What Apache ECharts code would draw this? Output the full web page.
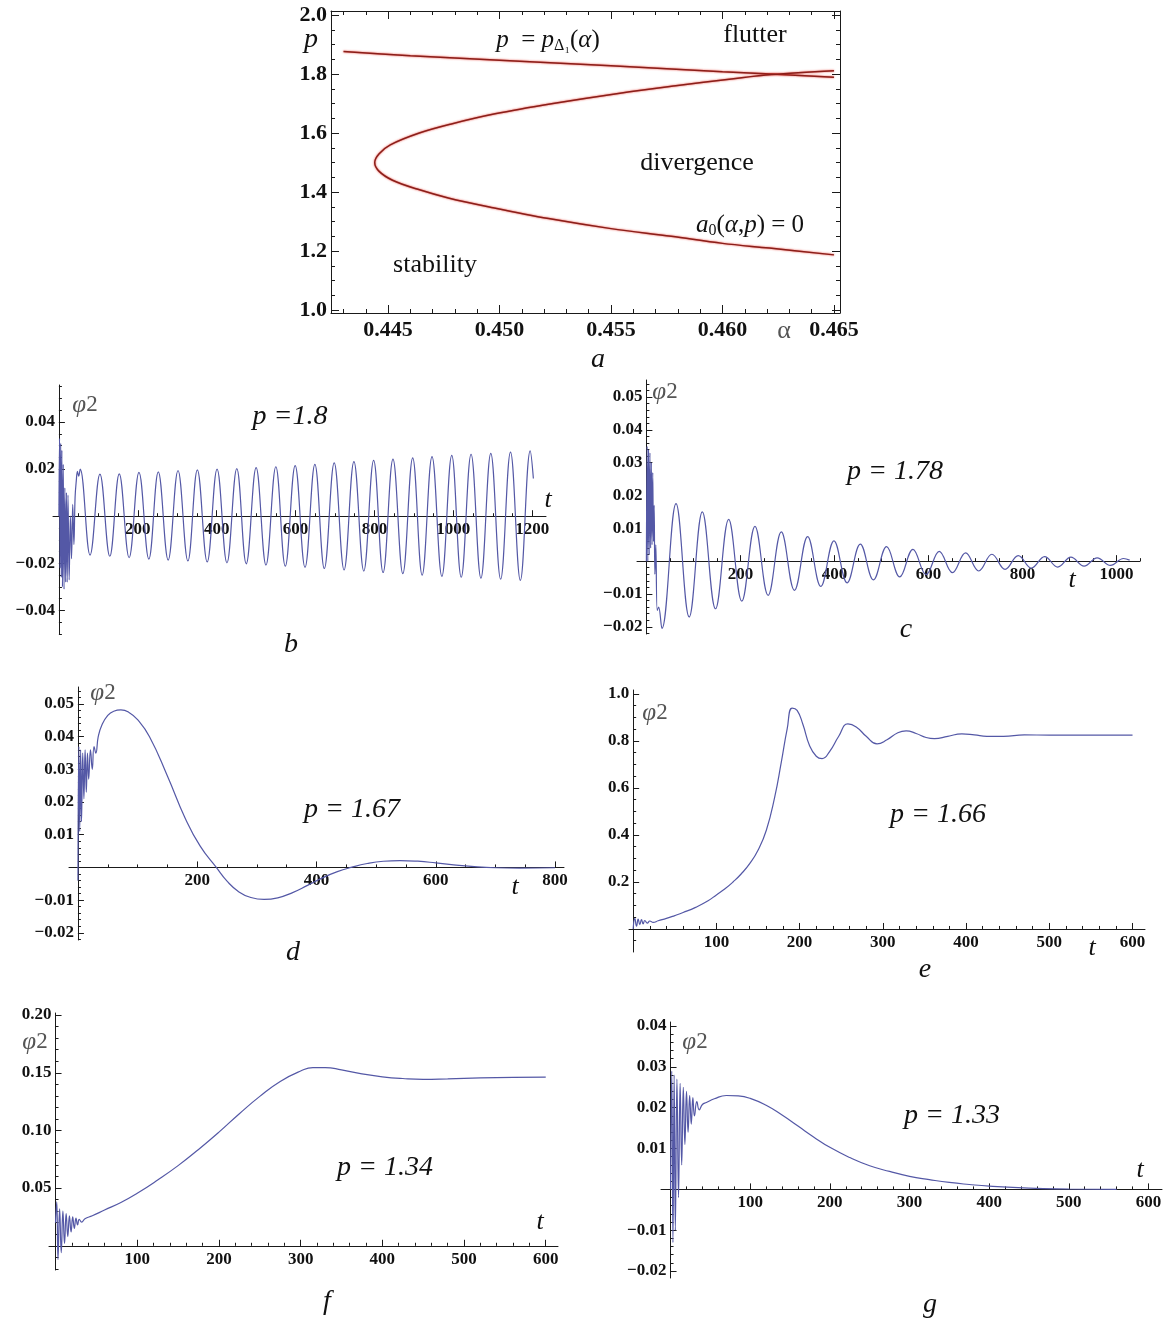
<!DOCTYPE html>
<html>
<head>
<meta charset="utf-8">
<script src="https://cdn.jsdelivr.net/npm/echarts@6/dist/echarts.min.js"></script>
<style>
  html, body { margin: 0; background: #fff; }
  #chart { width: 1173px; height: 1320px; }
</style>
</head>
<body>
<div id="chart"></div>
<script>
// ---- panel a : stability diagram ----
const alphaDelta = [0.443, 0.446, 0.450, 0.455, 0.460, 0.465];
const pDelta = [1.876, 1.862, 1.847, 1.828, 1.808, 1.789];
const alphaA0 = [0.465, 0.4621, 0.460, 0.4577, 0.455, 0.4522, 0.4497, 0.4477, 0.4463, 0.4452, 0.4446, 0.4444,
  0.4446, 0.4451, 0.4464, 0.4478, 0.4498, 0.4524, 0.4554, 0.4579, 0.4604, 0.4622, 0.465];
const pA0 = [1.187, 1.21, 1.226, 1.25, 1.276, 1.31, 1.347, 1.38, 1.41, 1.44, 1.47, 1.50,
  1.53, 1.56, 1.60, 1.63, 1.665, 1.70, 1.735, 1.76, 1.783, 1.798, 1.811];
const aTicksX = [0.445, 0.450, 0.455, 0.460, 0.465];
const aTicksY = [1.0, 1.2, 1.4, 1.6, 1.8, 2.0];

// ---- panel b : p = 1.8 ----
const bT = [0, 1.5, 3, 4.5, 6, 7.5, 9, 11, 13, 15, 17, 19, 21, 23, 26, 29, 32, 35, 38, 41, 44, 47, 50, 54,
  79, 104, 129, 153, 178, 203, 228, 252, 277, 302, 327, 351, 376, 401, 426, 451, 475, 500, 525, 550, 574, 599,
  624, 649, 673, 698, 723, 748, 773, 798, 822, 847, 872, 897, 921, 946, 971, 996, 1020, 1045, 1070, 1095,
  1120, 1145, 1170, 1195, 1203];
const bPhi = [0, 0.033, -0.022, 0.031, -0.026, 0.028, -0.03, 0.022, -0.031, 0.012, -0.028, 0.01, -0.028, 0.009,
  -0.027, 0.0, -0.018, 0.005, -0.012, 0.008, 0.015, 0.019, 0.017, 0.020,
  -0.0165, 0.0179, -0.0170, 0.0180, -0.0176, 0.0186, -0.0182, 0.0188, -0.0186, 0.0194, -0.0190, 0.0197,
  -0.0194, 0.0200, -0.0198, 0.0202, -0.0202, 0.0206, -0.0207, 0.0210, -0.0212, 0.0215, -0.0217, 0.0220,
  -0.0222, 0.0226, -0.0228, 0.0232, -0.0233, 0.0237, -0.0239, 0.0242, -0.0244, 0.0248, -0.0250, 0.0253,
  -0.0255, 0.0258, -0.0259, 0.0263, -0.0263, 0.0267, -0.0267, 0.0272, -0.0272, 0.0277, 0.016];
const bTicksX = [200, 400, 600, 800, 1000, 1200];
const bTicksY = [-0.04, -0.02, 0.02, 0.04];

// ---- panel c : p = 1.78 ----
const cT = [0, 1.5, 3, 4.5, 6, 7.5, 9, 10.5, 12, 13.5, 15, 16.5, 18, 20, 23, 26, 33,
  63, 91, 119, 147, 175, 203, 231, 259, 287, 315, 343, 371, 399, 427, 455, 483, 511, 539, 567, 595, 623,
  651, 679, 707, 735, 763, 791, 819, 847, 875, 903, 931, 959, 987, 1015, 1028];
const cPhi = [0, 0.035, 0.0, 0.034, 0.002, 0.033, 0.004, 0.03, 0.005, 0.027, 0.006, 0.017, -0.004, 0.005,
  -0.015, -0.014, -0.0205,
  0.0175, -0.0170, 0.0150, -0.0145, 0.0127, -0.0122, 0.0106, -0.0104, 0.0089, -0.0089, 0.0075, -0.0077,
  0.0062, -0.0066, 0.0052, -0.0057, 0.0044, -0.0048, 0.0036, -0.0041, 0.0030, -0.0035, 0.0025, -0.0030,
  0.0021, -0.0025, 0.0017, -0.0021, 0.0014, -0.0018, 0.0012, -0.0015, 0.0010, -0.0013, 0.0008, 0.0003];
const cTicksX = [200, 400, 600, 800, 1000];
const cTicksY = [-0.02, -0.01, 0.01, 0.02, 0.03, 0.04, 0.05];

// ---- panel d : p = 1.67 ----
const dT = [0, 1.5, 3, 4.5, 6, 8, 10, 12, 14, 16, 18, 21, 24, 27, 30, 34, 40, 50, 60, 72, 85, 100, 120, 150,
  180, 205, 232, 250, 270, 290, 312, 335, 360, 385, 410, 435, 458, 485, 512, 540, 570, 600, 630, 660, 700,
  740, 800];
const dPhi = [-0.004, 0.037, 0.011, 0.036, 0.014, 0.035, 0.021, 0.036, 0.023, 0.035, 0.027, 0.036, 0.030,
  0.037, 0.035, 0.040, 0.0435, 0.0465, 0.0478, 0.0482, 0.0475, 0.0452, 0.040, 0.028, 0.015, 0.0065, 0.0,
  -0.0042, -0.0075, -0.0092, -0.0098, -0.0093, -0.0077, -0.0055, -0.0032, -0.0013, 0.0, 0.0012, 0.0019,
  0.0021, 0.0019, 0.0014, 0.0008, 0.0003, -0.0001, -0.0002, -0.0001];
const dTicksX = [200, 400, 600, 800];
const dTicksY = [-0.02, -0.01, 0.01, 0.02, 0.03, 0.04, 0.05];

// ---- panel e : p = 1.66 ----
const eT = [0, 2, 4, 6, 8, 10, 12, 14, 17, 20, 24, 30, 40, 50, 60, 75, 90, 100, 110, 120, 130, 140, 150, 160,
  170, 178, 185, 191, 197, 204, 212, 220, 227, 236, 247, 258, 268, 280, 293, 305, 318, 328, 340, 352, 362,
  378, 395, 410, 425, 445, 470, 500, 550, 600];
const ePhi = [0.0, 0.045, 0.012, 0.042, 0.018, 0.04, 0.022, 0.036, 0.025, 0.034, 0.028, 0.035, 0.045, 0.057,
  0.07, 0.092, 0.12, 0.145, 0.17, 0.2, 0.235, 0.278, 0.335, 0.42, 0.56, 0.71, 0.85, 0.94, 0.93, 0.87, 0.78,
  0.735, 0.725, 0.755, 0.82, 0.873, 0.86, 0.82, 0.788, 0.805, 0.835, 0.843, 0.832, 0.815, 0.81, 0.82, 0.83,
  0.826, 0.82, 0.82, 0.826, 0.825, 0.825, 0.825];
const eTicksX = [100, 200, 300, 400, 500, 600];
const eTicksY = [0.2, 0.4, 0.6, 0.8, 1.0];

// ---- panel f : p = 1.34 ----
const fT = [0, 1.5, 3, 5, 7, 9, 11, 13, 15, 17, 19, 21, 23, 25, 27, 29, 32, 36, 45, 60, 80, 100, 125, 150,
  175, 200, 225, 250, 275, 300, 315, 330, 350, 375, 400, 425, 450, 480, 520, 560, 600];
const fPhi = [0.02, 0.038, -0.012, 0.032, -0.006, 0.03, 0.002, 0.028, 0.008, 0.026, 0.012, 0.025, 0.015,
  0.024, 0.018, 0.023, 0.0205, 0.0235, 0.026, 0.031, 0.0375, 0.0455, 0.057, 0.0695, 0.0835, 0.0985, 0.1145,
  0.1295, 0.1425, 0.1515, 0.1545, 0.1545, 0.1525, 0.149, 0.1465, 0.145, 0.1443, 0.1447, 0.1455, 0.146, 0.1462];
const fTicksX = [100, 200, 300, 400, 500, 600];
const fTicksY = [0.05, 0.10, 0.15, 0.20];

// ---- panel g : p = 1.33 ----
const gT = [0, 1.5, 3, 4.5, 6, 8, 10, 12, 14, 16, 18, 20, 22, 24, 26, 28, 30, 33, 36, 40, 45, 55, 70, 85,
  100, 120, 140, 160, 180, 200, 225, 250, 275, 300, 325, 350, 375, 400, 450, 500, 560];
const gPhi = [0.0, 0.029, -0.013, 0.028, -0.010, 0.027, -0.002, 0.026, 0.006, 0.025, 0.011, 0.024, 0.014,
  0.023, 0.016, 0.0225, 0.018, 0.0215, 0.0195, 0.0208, 0.0213, 0.0222, 0.0230, 0.0229, 0.0223, 0.0206,
  0.0182, 0.0155, 0.0128, 0.0103, 0.0078, 0.0058, 0.0044, 0.0032, 0.0024, 0.0017, 0.0012, 0.0008, 0.0003,
  0.0001, 0.0];
const gTicksX = [100, 200, 300, 400, 500, 600];
const gTicksY = [-0.02, -0.01, 0.01, 0.02, 0.03, 0.04];

const SERIF = '"Liberation Serif", "Times New Roman", serif';
const CURVE = '#5458a6';
const INK = '#1a1a1a';

const pairs = (xs, ys) => xs.map((x, i) => [x, ys[i]]);
const steps = (lo, hi, step) => {
  const out = [];
  for (let k = Math.ceil(lo / step - 1e-9); k * step <= hi + 1e-9; k++) out.push(+(k * step).toFixed(8));
  return out;
};
const fmt = (d) => (v) => (v < 0 ? '\u2212' : '') + Math.abs(v).toFixed(d);

const grids = [];
const xAxes = [];
const yAxes = [];
const series = [];

// visible axis: major (line + labels) or minor (ticks only)
function axis(grid, min, max, o) {
  return {
    type: 'value', gridIndex: grid, min, max, position: o.position,
    axisLine: { show: !!o.line, onZero: false, lineStyle: { color: INK, width: 1 } },
    axisTick: { show: true, inside: true, length: o.len, customValues: o.ticks, lineStyle: { color: INK, width: 1 } },
    axisLabel: {
      show: !!o.labels, customValues: o.labels || [], formatter: o.fmt, margin: o.margin || 5,
      fontFamily: SERIF, fontWeight: 'bold', fontSize: o.size || 17, color: '#111'
    },
    splitLine: { show: false }
  };
}
const hidden = (grid, min, max) => ({ type: 'value', gridIndex: grid, min, max, show: false, splitLine: { show: false } });

function addGrid(left, top, right, bottom) {
  grids.push({ left, top, width: right - left, height: bottom - top });
  return grids.length - 1;
}

// Mathematica "Axes" style panel: axes cross at the origin
function axesPanel(box, xr, yr, xMajor, yMajor, xStep, yStep, yDigits, t, phi, smooth) {
  const [l, tp, r, b] = box;
  const zeroY = b - (0 - yr[0]) / (yr[1] - yr[0]) * (b - tp);
  const zeroX = l + (0 - xr[0]) / (xr[1] - xr[0]) * (r - l);

  // horizontal t axis sitting on phi = 0
  const gx = addGrid(l, zeroY - 10, r, zeroY);
  xAxes.push(axis(gx, xr[0], xr[1], { position: 'bottom', line: true, len: 6, ticks: xMajor, labels: xMajor, fmt: fmt(0), size: 17, margin: 5 }));
  xAxes.push(axis(gx, xr[0], xr[1], { position: 'bottom', len: 3, ticks: steps(0, xr[1], xStep) }));
  yAxes.push(hidden(gx, 0, 1));
  yAxes.push(hidden(gx, 0, 1));

  // vertical phi axis sitting on t = 0
  const gy = addGrid(zeroX, tp, zeroX + 10, b);
  yAxes.push(axis(gy, yr[0], yr[1], { position: 'left', line: true, len: 6, ticks: yMajor, labels: yMajor, fmt: fmt(yDigits), size: 17, margin: 4 }));
  yAxes.push(axis(gy, yr[0], yr[1], { position: 'left', len: 3, ticks: steps(yr[0], yr[1], yStep) }));
  xAxes.push(hidden(gy, 0, 1));
  xAxes.push(hidden(gy, 0, 1));

  // plotting area
  const gp = addGrid(l, tp, r, b);
  const xi = xAxes.length, yi = yAxes.length;
  xAxes.push(hidden(gp, xr[0], xr[1]));
  yAxes.push(hidden(gp, yr[0], yr[1]));
  series.push({
    type: 'line', xAxisIndex: xi, yAxisIndex: yi, data: pairs(t, phi), showSymbol: false, smooth,
    lineStyle: { color: CURVE, width: 1.2 }, silent: true, z: 1
  });
}

// ---- panel a (framed) ----
(function () {
  const g = addGrid(331, 11, 840, 313);
  const xr = [0.44244, 0.46527], yr = [0.99, 2.0136];
  const xi = xAxes.length, yi = yAxes.length;
  xAxes.push(axis(g, xr[0], xr[1], { position: 'bottom', line: true, len: 8, ticks: aTicksX, labels: aTicksX, fmt: fmt(3), size: 22, margin: 6 }));
  xAxes.push(axis(g, xr[0], xr[1], { position: 'bottom', len: 4, ticks: steps(xr[0], xr[1], 0.001) }));
  xAxes.push(axis(g, xr[0], xr[1], { position: 'top', line: true, len: 8, ticks: aTicksX }));
  xAxes.push(axis(g, xr[0], xr[1], { position: 'top', len: 4, ticks: steps(xr[0], xr[1], 0.001) }));
  yAxes.push(axis(g, yr[0], yr[1], { position: 'left', line: true, len: 8, ticks: aTicksY, labels: aTicksY, fmt: fmt(1), size: 22, margin: 4 }));
  yAxes.push(axis(g, yr[0], yr[1], { position: 'left', len: 4, ticks: steps(yr[0], yr[1], 0.05) }));
  yAxes.push(axis(g, yr[0], yr[1], { position: 'right', line: true, len: 8, ticks: aTicksY }));
  yAxes.push(axis(g, yr[0], yr[1], { position: 'right', len: 4, ticks: steps(yr[0], yr[1], 0.05) }));
  const red = { color: '#8a1f1a', width: 1.5, shadowColor: 'rgba(230,40,30,0.9)', shadowBlur: 2 };
  series.push({ type: 'line', xAxisIndex: xi, yAxisIndex: yi, data: pairs(alphaDelta, pDelta), showSymbol: false, smooth: 0.3, lineStyle: red, silent: true });
  series.push({ type: 'line', xAxisIndex: xi, yAxisIndex: yi, data: pairs(alphaA0, pA0), showSymbol: false, smooth: 0.35, lineStyle: red, silent: true });
})();

axesPanel([53, 385, 546, 634], [-15, 1235], [-0.05, 0.0557], bTicksX, bTicksY, 50, 0.005, 2, bT, bPhi, 0.4);
axesPanel([637, 380, 1140, 634], [-20, 1050], [-0.0222, 0.0552], cTicksX, cTicksY, 50, 0.002, 2, cT, cPhi, 0.4);
axesPanel([69, 687, 564, 940], [-15, 815], [-0.0222, 0.0552], dTicksX, dTicksY, 50, 0.002, 2, dT, dPhi, 0.5);
axesPanel([629, 690, 1145, 952], [-5, 615], [-0.098, 1.017], eTicksX, eTicksY, 20, 0.05, 1, eT, ePhi, 0.5);
axesPanel([49, 1013, 558, 1270], [-8, 615], [-0.021, 0.2018], fTicksX, fTicksY, 20, 0.01, 2, fT, fPhi, 0.5);
axesPanel([661, 1022, 1162, 1278], [-12, 617], [-0.0217, 0.041], gTicksX, gTicksY, 20, 0.002, 2, gT, gPhi, 0.5);

// ---- text ----
function txt(x, y, text, size, o = {}) {
  return {
    type: 'text', x, y, silent: true, z: 10,
    style: {
      text, fontFamily: SERIF, fontSize: size, fontStyle: o.italic ? 'italic' : 'normal',
      fill: o.color || '#111', align: 'center', verticalAlign: 'middle', rich: o.rich
    }
  };
}
const richMath = (size) => ({
  it: { fontFamily: SERIF, fontStyle: 'italic', fontSize: size, lineHeight: size + 2, fill: '#111' },
  r: { fontFamily: SERIF, fontSize: size, lineHeight: size + 2, fill: '#111' },
  sub: { fontFamily: SERIF, fontSize: Math.round(size * 0.62), lineHeight: Math.round(size * 0.62), verticalAlign: 'bottom', fill: '#111' }
});
const phiRich = {
  ph: { fontFamily: SERIF, fontStyle: 'italic', fontSize: 25, fill: '#555' },
  n: { fontFamily: SERIF, fontSize: 23, fill: '#555' }
};

const texts = [
  // panel a
  txt(311, 40, 'p', 28, { italic: true }),
  txt(548, 40, '{it|p}{r|  = }{it|p}{sub|Δ₁}{r|(}{it|α}{r|)}', 25, { rich: richMath(25) }),
  txt(755, 35, 'flutter', 26),
  txt(697, 163, 'divergence', 26),
  txt(750, 225, '{it|a}{sub|0}{r|(}{it|α}{r|,}{it|p}{r|) = 0}', 25, { rich: richMath(25) }),
  txt(435, 265, 'stability', 26),
  txt(784, 331, 'α', 26, { color: '#555' }),
  txt(598, 360, 'a', 28, { italic: true }),
  // panels b - g
  txt(290, 417, 'p =1.8', 28, { italic: true }),
  txt(895, 472, 'p = 1.78', 28, { italic: true }),
  txt(352, 810, 'p = 1.67', 28, { italic: true }),
  txt(938, 815, 'p = 1.66', 28, { italic: true }),
  txt(385, 1168, 'p = 1.34', 28, { italic: true }),
  txt(952, 1116, 'p = 1.33', 28, { italic: true })
];
[[85, 405], [665, 392], [103, 693], [655, 713], [35, 1042], [695, 1042]].forEach(([x, y]) => {
  texts.push(txt(x, y, '{ph|φ}{n|2}', 25, { rich: phiRich }));
});
[[548, 500], [1072, 580], [515, 887], [1092, 948], [540, 1222], [1140, 1170]].forEach(([x, y]) => {
  texts.push(txt(x, y, 't', 26, { italic: true }));
});
[['b', 291, 645], ['c', 906, 630], ['d', 293, 953], ['e', 925, 970], ['f', 327, 1302], ['g', 930, 1305]].forEach(([s, x, y]) => {
  texts.push(txt(x, y, s, 28, { italic: true }));
});

const chart = echarts.init(document.getElementById('chart'));
chart.setOption({
  backgroundColor: '#fff',
  animation: false,
  grid: grids,
  xAxis: xAxes,
  yAxis: yAxes,
  series,
  graphic: texts
});
</script>
</body>
</html>
